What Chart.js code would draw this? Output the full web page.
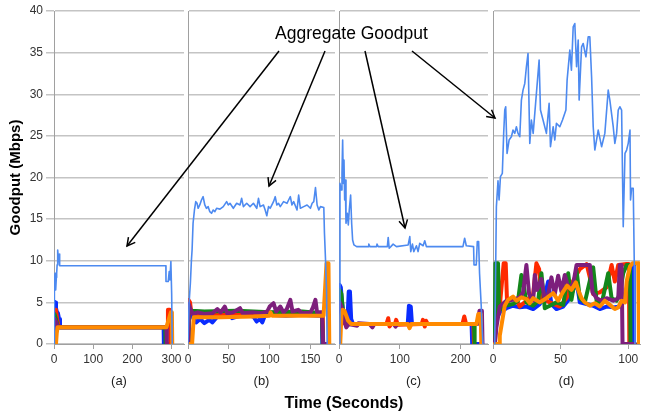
<!DOCTYPE html>
<html>
<head>
<meta charset="utf-8">
<script src="https://cdn.jsdelivr.net/npm/chart.js@4.4.1/dist/chart.umd.min.js"></script>
<style>
  html, body { margin: 0; padding: 0; background: #fff; }
  #wrap { position: relative; width: 647px; height: 414px; overflow: hidden; }
  #wrap canvas, #overlay { position: absolute; left: 0; top: 0; }
</style>
</head>
<body>
<div id="wrap">
  <canvas id="ca" width="647" height="414"></canvas>
  <canvas id="cb" width="647" height="414"></canvas>
  <canvas id="cc" width="647" height="414"></canvas>
  <canvas id="cd" width="647" height="414"></canvas>
  <svg id="overlay" width="647" height="414"></svg>
</div>
<script>
// panel labels and time axes
const panelNames = ['(a)', '(b)', '(c)', '(d)'];
const panelMax = [332, 180, 245, 108.7];
const panelTicks = [[0, 100, 200, 300], [0, 50, 100, 150], [0, 100, 200], [0, 50, 100]];
const yTicks = [0, 5, 10, 15, 20, 25, 30, 35, 40];

// (a) [seconds, Mbps]
const aggA = [[0,0],[1,7.5],[2.6,8.5],[3.5,7.2],[5.1,6.5],[6,8],[6.8,8.5],[8,9.5],[9.4,11.3],[10.5,10.6],[11.9,10.8],[12.8,10.3],[13.6,10.8],[15.3,9.4],[285.7,9.4],[286,7.5],[291.7,7.5],[294.2,8.7],[296,7.7],[298.5,9.9],[300.5,6],[302,0]];
const blueA = [[0,0],[0.5,5.1],[2.6,5.0],[5.1,4.3],[7,3.9],[10,3.7],[13,3.0],[15.3,2.0],[280,2.0],[280.6,0],[291.7,0]];
const redA = [[0,0],[1,4.1],[5,4.1],[8,3.0],[12,2.0],[289,2.0],[291,4.1],[296,4.1],[297,0]];
const greenA = [[0,0],[1,3.6],[4,3.2],[8,2.4],[12,2.0],[284,2.0],[285,0]];
const purpleA = [[0,0],[2,3.0],[6,2.6],[10,2.0],[287,2.0],[288,0]];
const orangeA = [[0,0],[5,0],[7,1.3],[9,2.0],[287,2.0],[292,2.8],[298.5,3.8],[301,3.8],[302,0]];

// (b)
const aggB = [[0,0],[1.3,4.9],[2.9,7.3],[4.2,10.1],[5,11.3],[6.2,14.5],[7.9,16.1],[9.5,17.1],[11.1,16.9],[12.4,16.3],[14.4,16.7],[16.5,17.3],[18.5,17.7],[20.6,16.7],[22.6,16.3],[24.7,16.5],[26.7,15.9],[28.8,15.7],[30.9,16.1],[32.9,15.9],[35,16.3],[39.1,16.2],[43.2,16.5],[47.3,17.1],[49.3,16.7],[51.4,16.9],[55.5,16.3],[59.6,16.9],[63.7,16.7],[65.7,17.5],[67.8,16.5],[71.9,16.9],[76,16.5],[80.1,16.9],[84.2,16.3],[86.3,17.5],[88.3,16.5],[92.4,16.7],[94.5,16.1],[96.5,15.4],[98.6,16.5],[100.6,16.3],[104.7,17.1],[106.8,17.7],[108.8,16.7],[110.9,16.9],[113,16.5],[117,17.1],[121.2,16.9],[123.2,17.3],[125.3,17.7],[127.3,16.7],[129.4,17.1],[133.5,16.1],[135.5,17.9],[137.6,16.3],[141.7,16.5],[145.8,16.7],[149.9,16.3],[152,16.9],[154,17.1],[156.1,18.8],[158.1,16.7],[160.2,16.1],[162.2,16.5],[166.3,16.4],[167.1,13.3],[168.4,10.1],[169.6,6.5],[170.4,0]];
const blueB = [[0,0],[0.5,4.5],[3,3.8],[7,3.0],[10,2.6],[15,3.0],[20,2.5],[26,2.9],[30,2.6],[35,3.2],[40,3.4],[50,3.7],[54,3.1],[60,3.3],[70,3.5],[80,3.3],[84,2.7],[88,3.0],[91,2.6],[94,3.4],[100,3.5],[120,3.4],[140,3.5],[160,3.4],[164,3.4],[164.5,0],[168,0]];
const redB = [[0,0],[0.5,5.3],[2.5,5.0],[4,3.8],[8,3.6],[40,3.6],[80,3.5],[120,3.6],[160,3.5],[165,3.5],[165.5,0],[169,0]];
const greenB = [[0,0],[0.8,4.5],[4,4.0],[20,3.9],[60,4.0],[100,3.8],[140,3.9],[164,3.7],[165,0]];
const purpleB = [[0,0],[0.8,4.8],[3,4.2],[6,3.6],[12,3.8],[20,3.6],[30,3.7],[36,4.2],[40,3.8],[45,4.5],[48,3.7],[55,3.8],[63.7,4.3],[67,3.7],[80,3.8],[90,3.7],[97,3.9],[100,4.5],[104.7,4.9],[108,3.9],[113,4.5],[117,3.8],[121,4.2],[125.3,5.3],[128,3.9],[135,4.1],[140,3.7],[150,3.8],[153,4.4],[156,5.3],[158,3.8],[164,3.8],[165.5,0],[170,0]];
const orangeB = [[0,0],[5,0],[7,3.2],[40,3.2],[80,3.3],[100,3.4],[101,3.8],[103,3.4],[130,3.4],[166,3.4],[169.6,9.7],[172,9.7],[173,0]];

// (c)
const aggC = [[0,0],[1.6,19.3],[3.3,18.5],[4.9,20.5],[6,24.5],[7.1,19.3],[8.2,22.1],[9.3,17.3],[10.4,19.7],[11.5,14.5],[13.7,15.7],[15.3,14.3],[16.9,16.1],[19.1,17.9],[20.8,14.5],[22.4,12.5],[24.6,11.9],[29,11.7],[48,11.7],[49,12.0],[50.8,11.7],[61.7,11.7],[62.5,12.0],[64.5,11.7],[79.5,11.7],[80.9,12.8],[82.5,11.5],[85.2,11.7],[89,12.0],[94.5,11.7],[113.7,11.9],[116.4,12.9],[118,11.1],[120.8,12.0],[123,11.1],[127.3,11.8],[130,11.1],[132.8,12.1],[138.3,11.8],[141,12.4],[143.7,11.7],[203.8,11.7],[206.6,12.7],[209.3,11.8],[221.3,11.7],[222,9.5],[225.7,9.5],[227.4,12.3],[229.6,12.3],[231.1,8.5],[233.9,4.5],[236.6,0]];
const blueC = [[0,0],[1,7.1],[3,6.8],[5,5.0],[8,3.2],[11,2.6],[14,3.0],[16,6.3],[18,6.3],[20,3.0],[23,2.4],[113,2.4],[115,4.6],[118,4.5],[120,2.4],[218,2.4],[219,0],[231,0]];
const redC = [[0,0],[1,3.0],[5,3.0],[10,2.4],[78,2.4],[81,3.1],[83,2.1],[86,2.4],[92,2.4],[94,2.9],[97,2.3],[136,2.4],[138,2.9],[141,2.1],[143,2.8],[146,2.4],[203,2.4],[206,3.3],[209,2.4],[221,2.4],[222,0]];
const greenC = [[0,0],[1,6.5],[4,6.0],[7,3.5],[12,2.4],[222,2.4],[223,0]];
const purpleC = [[0,0],[1,5.0],[4,4.5],[8,3.0],[12,2.0],[16,2.4],[30,2.2],[32,2.5],[50,2.4],[55,2.0],[58,2.4],[90,2.4],[93,2.1],[96,2.4],[228,2.4],[231,4.0],[235,4.0],[236,0]];
const orangeC = [[0,0],[2,0],[4,3.5],[6,4.1],[9,4.0],[12,3.4],[15,2.8],[20,2.4],[113,2.4],[116,1.9],[119,2.4],[226,2.4],[229,3.6],[233,3.6],[234,0]];

// (d)
const aggD = [[1.3,0],[2.5,16.5],[3.7,19.6],[4.5,17.3],[5.5,20.1],[6.9,20.5],[7.9,25.3],[8.7,28.1],[9.4,28.5],[10.4,22.9],[11.9,24.5],[13.6,24.9],[14.8,25.7],[16.1,25.3],[17.3,26.1],[18.5,25.3],[19.8,24.9],[21,29.3],[22.2,30.5],[23.5,31.3],[24.7,33.3],[25.9,34.9],[27.2,24.1],[28.4,26.9],[29.7,25.3],[32.1,30.1],[34.1,34.1],[35.1,28.1],[37,26.9],[39.5,25.3],[41.5,28.9],[42.5,23.7],[44.5,26.1],[45.7,24.5],[46.9,26.5],[49.4,26.1],[51.4,26.9],[53.9,28.1],[54.8,31.7],[56.8,35.3],[58,32.9],[59.3,38.1],[60.5,38.5],[61.8,33.3],[63,36.5],[63.7,29.3],[65.5,35.7],[66.7,36.1],[68.7,34.5],[70.4,36.9],[71.6,36.9],[72.9,32.1],[74.1,26.1],[75.3,23.3],[77.8,25.7],[80.3,23.7],[82.7,25.3],[85.2,30.5],[86.4,29.3],[88.9,26.1],[90.1,24.1],[91.4,25.3],[92.6,28.1],[93.8,28.5],[95.1,28.1],[96.3,14.1],[97.6,22.9],[98.8,23.3],[100,24.1],[101.3,25.7],[101.7,17.3],[102.5,18.7],[103.7,18.7],[104.5,9.3],[105,0]];
const blueD = [[1.3,0],[2.5,3],[5,3.8],[9.9,4.3],[14.8,4.6],[19.8,4.4],[24.7,4.5],[29.7,4.2],[34.6,4.8],[38.3,5.8],[40.8,7.5],[43.2,4.8],[46.9,4.2],[51.9,4.5],[56.8,5.5],[61.8,7.5],[64.2,5.0],[69.2,4.8],[74.1,4.6],[79,4.2],[84,4.5],[88.9,4.4],[93.8,4.5],[98.8,6.5],[101.3,9.5],[103.7,9.5],[104.2,0]];
const redD = [[1.3,0],[2.5,5],[5,4.5],[7.9,9.7],[9.4,9.7],[10.4,5.0],[13.6,5.5],[17.3,5.3],[19.8,4.5],[24.7,5.2],[29.7,6],[32.1,9.7],[34.1,9.0],[35.8,5.5],[42,5.0],[49.4,4.5],[54.3,5.5],[58,7.2],[64.2,9.0],[69.2,9.6],[71.6,8],[74.1,6.0],[79,6.2],[84,6.8],[87.7,9.5],[90.1,7.5],[92.6,9.5],[98.8,9.6],[100.5,9.6],[100.8,0],[103.7,0]];
const greenD = [[1.3,0],[1.8,9.7],[3.7,9.7],[4.5,4],[8.7,4.6],[14.8,4.8],[18.5,5.2],[21,8.3],[22.2,7.5],[24.7,5.0],[29.7,4.6],[33.4,5.2],[35.8,8.5],[38.3,4.3],[42,4.6],[46.9,5.0],[51.9,4.7],[55.6,8.5],[58,5.3],[61.8,8.8],[64.2,5.5],[67.9,5.0],[72.9,8.5],[74.1,9.2],[76.6,5.2],[80.3,4.8],[85.2,8.5],[87.7,5.5],[91.4,5.2],[93.8,6],[96.3,8.5],[98.8,9.5],[101.3,9.5],[101.7,0],[105,0]];
const purpleD = [[1.3,0],[2.5,2],[5,4.5],[9.9,5.2],[14.8,5.3],[19.8,5.6],[22.2,6.2],[24.7,9.5],[26.7,6.0],[29.7,5.2],[30.9,8.3],[32.6,6.5],[35.8,7.8],[38.3,5.3],[40.8,6.0],[43.2,8.0],[45.7,6.0],[48.2,8.2],[50.6,6.3],[53.1,8.3],[55.6,6.8],[59.3,7.2],[61.8,9.5],[71.6,9.5],[73.6,6.2],[76.6,5.5],[80.3,5.2],[84,5.5],[88.9,5.2],[92.6,5.5],[93.8,9.5],[95.1,9.5],[95.8,0],[105,0]];
const orangeD = [[1.3,0],[4.5,0],[5,1],[8.7,4.6],[11.1,5.3],[14.8,5.7],[17.3,5.2],[21,5.6],[24.7,5.4],[27.2,4.9],[29.7,5.5],[34.6,5.0],[39.5,5.5],[44.5,6.1],[48.2,5.2],[51.9,6.3],[54.8,7.0],[58,6.5],[61.3,7.4],[63,6.5],[65.5,5.5],[67.9,5.0],[71.6,4.6],[75.3,4.9],[79,4.5],[82.7,5.2],[86.4,4.7],[90.1,4.2],[92.6,4.4],[95.1,5.2],[97.6,5.0],[98.8,7.5],[101.3,9.3],[103.2,9.7],[107.4,9.7],[107.9,0]];

const FONT = "'Liberation Sans', Arial, sans-serif";
Chart.defaults.font.family = FONT;

const colors = { agg: '#4d8af0', orange: '#ff8a00', purple: '#7d1f7c', green: '#13861a', red: '#ff2a00', blue: '#0a2cff' };

// dataset 0 is drawn last (on top)
function seriesFor(agg, orange, purple, green, red, blue) {
  return [
    { data: agg, borderColor: colors.agg, borderWidth: 1.6 },
    { data: orange, borderColor: colors.orange, borderWidth: 4 },
    { data: purple, borderColor: colors.purple, borderWidth: 4 },
    { data: green, borderColor: colors.green, borderWidth: 4 },
    { data: red, borderColor: colors.red, borderWidth: 4 },
    { data: blue, borderColor: colors.blue, borderWidth: 4 }
  ].map(d => Object.assign(d, { pointRadius: 0, tension: 0, fill: false, borderJoinStyle: 'round', borderCapStyle: 'round' }));
}

function makePanel(id, idx, datasets, left, right) {
  const first = idx === 0;
  return new Chart(document.getElementById(id), {
    type: 'line',
    data: { datasets: datasets },
    options: {
      responsive: false,
      animation: false,
      events: [],
      layout: { padding: { left: left, right: 647 - right, top: 11, bottom: 0 } },
      plugins: { legend: { display: false }, tooltip: { enabled: false } },
      scales: {
        x: {
          type: 'linear',
          min: 0,
          max: panelMax[idx],
          afterBuildTicks: s => { s.ticks = panelTicks[idx].map(v => ({ value: v })); },
          afterFit: s => { s.height = 70; },
          ticks: { autoSkip: false, maxRotation: 0, color: '#333', font: { size: 12 }, padding: 3 },
          grid: { drawOnChartArea: false, drawTicks: true, tickLength: 5, color: '#a0a0a0' },
          border: { display: true, color: '#a0a0a0' },
          title: { display: true, text: panelNames[idx], color: '#222', font: { size: 13 }, padding: { top: 0, bottom: 25 } }
        },
        y: {
          min: 0,
          max: 40,
          afterBuildTicks: s => { s.ticks = yTicks.map(v => ({ value: v })); },
          afterFit: s => { s.width = first ? 54 : 0; },
          ticks: { display: first, color: '#333', font: { size: 12 }, padding: 3 },
          grid: { color: '#c4c4c4', lineWidth: 1.5, drawTicks: first, tickLength: 8 },
          border: { display: true, color: '#a0a0a0' },
          title: { display: first, text: 'Goodput (Mbps)', color: '#000', font: { size: 15, weight: 'bold' }, padding: { top: 7 } }
        }
      }
    }
  });
}

makePanel('ca', 0, seriesFor(aggA, orangeA, purpleA, greenA, redA, blueA), 0, 184);
makePanel('cb', 1, seriesFor(aggB, orangeB, purpleB, greenB, redB, blueB), 188, 335);
makePanel('cc', 2, seriesFor(aggC, orangeC, purpleC, greenC, redC, blueC), 339, 488);
makePanel('cd', 3, seriesFor(aggD, orangeD, purpleD, greenD, redD, blueD), 493, 640);

// annotation: label + arrows, and the shared axis title
const svg = document.getElementById('overlay');
const NS = 'http://www.w3.org/2000/svg';
function el(tag, attrs, text) {
  const e = document.createElementNS(NS, tag);
  for (const k in attrs) e.setAttribute(k, attrs[k]);
  if (text) e.textContent = text;
  svg.appendChild(e);
  return e;
}
el('text', { x: 351.5, y: 39, 'text-anchor': 'middle', 'font-family': FONT, 'font-size': 17.5, fill: '#000' }, 'Aggregate Goodput');
el('text', { x: 344, y: 408, 'text-anchor': 'middle', 'font-family': FONT, 'font-size': 16, 'font-weight': 'bold', fill: '#000' }, 'Time (Seconds)');

const arrows = [[279, 51, 127, 246], [325, 51, 269, 186], [365, 51, 405, 228], [412, 51, 495, 118]];
arrows.forEach(([x1, y1, x2, y2]) => {
  el('line', { x1, y1, x2, y2, stroke: '#000', 'stroke-width': 1.5 });
  const a = Math.atan2(y2 - y1, x2 - x1);
  const len = 9, spread = 0.5;
  const p1 = [x2 - len * Math.cos(a - spread), y2 - len * Math.sin(a - spread)];
  const p2 = [x2 - len * Math.cos(a + spread), y2 - len * Math.sin(a + spread)];
  el('polyline', { points: `${p1[0]},${p1[1]} ${x2},${y2} ${p2[0]},${p2[1]}`, fill: 'none', stroke: '#000', 'stroke-width': 1.5 });
});
</script>
</body>
</html>
